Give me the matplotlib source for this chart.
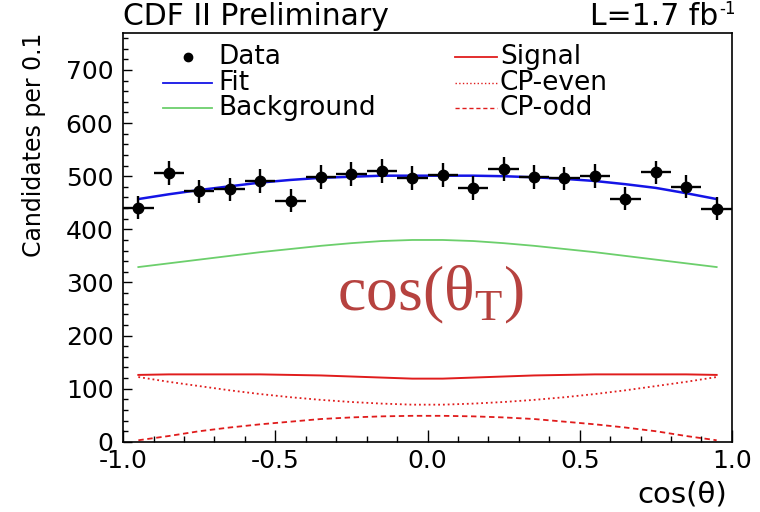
import numpy as np
import matplotlib
matplotlib.use('Agg')
import matplotlib.pyplot as plt
from matplotlib.ticker import MultipleLocator, FormatStrFormatter

plt.rcParams['font.family'] = ['DejaVu Sans']

# bin centres of cos(theta), width 0.1
bin_centres = [-0.95, -0.85, -0.75, -0.65, -0.55, -0.45, -0.35, -0.25, -0.15, -0.05,
               0.05, 0.15, 0.25, 0.35, 0.45, 0.55, 0.65, 0.75, 0.85, 0.95]
data_counts = [441, 506, 472, 475, 491, 454, 499, 504, 509, 497,
               503, 478, 513, 499, 496, 500, 458, 507, 480, 439]

# model curves read at the bin centres
fit_curve = [457, 466, 474, 481, 488, 493, 497, 499, 501, 501,
             501, 501, 500, 498, 495, 491, 485, 478, 468, 457]
background = [329, 336, 343, 350, 357, 363, 369, 374, 378, 380,
              380, 378, 374, 369, 363, 357, 350, 343, 336, 329]
signal = [126, 127, 127, 127, 127, 126, 125, 123, 121, 119,
          119, 121, 123, 125, 126, 127, 127, 127, 127, 126]
cp_even = [122, 113, 105, 97, 90, 84, 79, 75, 72, 70,
           70, 72, 75, 79, 84, 90, 97, 105, 113, 122]
cp_odd = [3, 11, 20, 27, 33, 38, 43, 46, 48, 49,
          49, 48, 46, 43, 38, 33, 27, 20, 11, 3]

legend_left = ['Data', 'Fit', 'Background']
legend_right = ['Signal', 'CP-even', 'CP-odd']

blue = '#1414e6'
green = '#6ccf6c'
red = '#e01c1c'
dashes = (0, (3, 2))

fig = plt.figure(figsize=(7.6, 5.12), dpi=100)
ax = fig.add_axes([0.162, 0.137, 0.801, 0.799])

ax.plot(bin_centres, fit_curve, color=blue, lw=1.8)
ax.plot(bin_centres, background, color=green, lw=1.3)
ax.plot(bin_centres, signal, color=red, lw=1.4)
ax.plot(bin_centres, cp_even, color=red, lw=1.3, ls=':')
ax.plot(bin_centres, cp_odd, color=red, lw=1.3, ls=dashes)
ax.errorbar(bin_centres, data_counts, xerr=0.05, yerr=np.sqrt(data_counts),
            fmt='o', color='black', ms=7.5, elinewidth=1.7, capsize=0)

ax.set_xlim(-1.0, 1.0)
ax.set_ylim(0, 770)
ax.xaxis.set_major_locator(MultipleLocator(0.5))
ax.xaxis.set_minor_locator(MultipleLocator(0.1))
ax.yaxis.set_major_locator(MultipleLocator(100))
ax.yaxis.set_minor_locator(MultipleLocator(20))
ax.xaxis.set_major_formatter(FormatStrFormatter('%.1f'))
ax.tick_params(which='both', direction='in', top=False, right=False, labelsize=18, width=1.0)
ax.tick_params(axis='x', which='major', length=8.6, pad=5)
ax.tick_params(axis='x', which='minor', length=4.3)
ax.tick_params(axis='y', which='major', length=6.2, pad=7)
ax.tick_params(axis='y', which='minor', length=3.3)
for s in ax.spines.values():
    s.set_linewidth(1.2)

ax.set_ylabel('Candidates per 0.1', fontsize=17, loc='top')
ax.yaxis.set_label_coords(-0.127, 1.0)
ax.set_xlabel('cos(\u03b8)', fontsize=21, loc='right')
ax.xaxis.set_label_coords(0.992, -0.095)

fig.text(0.162, 0.967, 'CDF II Preliminary', fontsize=21.5, ha='left', va='center')
fig.text(0.945, 0.967, 'L=1.7 fb', fontsize=21.5, ha='right', va='center')
fig.text(0.946, 0.982, '-1', fontsize=12, ha='left', va='center')

# legend, drawn as two columns without frame
rows = [0.941, 0.878, 0.817]
ax.plot([0.107], [rows[0]], 'o', color='black', ms=6, transform=ax.transAxes)
ax.plot([0.066, 0.146], [rows[1], rows[1]], color=blue, lw=1.3, transform=ax.transAxes)
ax.plot([0.066, 0.146], [rows[2], rows[2]], color=green, lw=1.3, transform=ax.transAxes)
ax.plot([0.545, 0.614], [rows[0], rows[0]], color=red, lw=1.3, transform=ax.transAxes)
ax.plot([0.545, 0.614], [rows[1], rows[1]], color=red, lw=1.0, ls=':', transform=ax.transAxes)
ax.plot([0.545, 0.614], [rows[2], rows[2]], color=red, lw=1.0, ls=dashes, transform=ax.transAxes)
for label, y in zip(legend_left, rows):
    ax.text(0.156, y, label, transform=ax.transAxes, fontsize=19, va='center')
for label, y in zip(legend_right, rows):
    ax.text(0.619, y, label, transform=ax.transAxes, fontsize=19, va='center')

fig.text(0.567, 0.424, 'cos(\u03b8$_{\\mathregular{T}}$)', fontsize=46, color='#b6423f',
         ha='center', va='center', family=['Liberation Serif', 'DejaVu Serif'])

fig.savefig('out.png', dpi=100)
